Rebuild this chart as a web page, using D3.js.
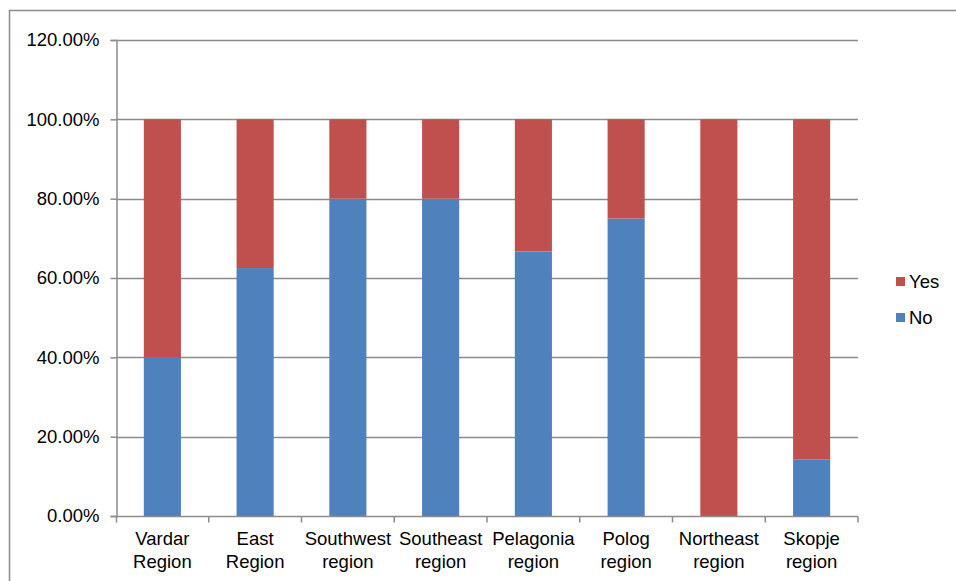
<!DOCTYPE html>
<html>
<head>
<meta charset="utf-8">
<script src="https://cdn.jsdelivr.net/npm/d3@7"></script>
<style>
  html, body { margin: 0; padding: 0; background: #fff; }
  svg { display: block; font-family: "Liberation Sans", Arial, sans-serif; }
</style>
</head>
<body>
<svg id="chart" width="956" height="581"></svg>
<script>
// Regions and shares of answers (fractions of 1)
const regions = [
  ["Vardar", "Region"],
  ["East", "Region"],
  ["Southwest", "region"],
  ["Southeast", "region"],
  ["Pelagonia", "region"],
  ["Polog", "region"],
  ["Northeast", "region"],
  ["Skopje", "region"]
];
const noValues  = [0.40, 0.625, 0.80, 0.80, 0.6667, 0.75, 0.00, 0.1429];
const yesValues = [0.60, 0.375, 0.20, 0.20, 0.3333, 0.25, 1.00, 0.8571];
const seriesNames = ["No", "Yes"];
const yTicks = [0, 0.2, 0.4, 0.6, 0.8, 1.0, 1.2];

const colors = { No: "#4F81BD", Yes: "#C0504D" };
const fontSize = "18.5px";

const svg = d3.select("#chart");
const margin = { left: 116, right: 98, top: 40, bottom: 65 };
const W = 956, H = 581;

// outer chart-area frame
svg.append("rect")
  .attr("x", 9.5).attr("y", 10.5)
  .attr("width", 960).attr("height", 600)
  .attr("fill", "none").attr("stroke", "#8c8c8c").attr("stroke-width", 1.5);

const x = d3.scaleBand()
  .domain(d3.range(regions.length))
  .range([margin.left, W - margin.right])
  .paddingInner(0.6).paddingOuter(0.3);

const y = d3.scaleLinear()
  .domain([0, 1.2])
  .range([H - margin.bottom, margin.top]);

// horizontal gridlines
svg.append("g")
  .selectAll("line")
  .data(yTicks.filter(d => d > 0))
  .join("line")
  .attr("x1", margin.left).attr("x2", W - margin.right)
  .attr("y1", d => Math.round(y(d)) + 0.5).attr("y2", d => Math.round(y(d)) + 0.5)
  .attr("stroke", "#8c8c8c").attr("stroke-width", 1.5);

// stacked data
const rows = regions.map((r, i) => ({ i, No: noValues[i], Yes: yesValues[i] }));
const stacked = d3.stack().keys(seriesNames)(rows);

svg.append("g")
  .selectAll("g")
  .data(stacked)
  .join("g")
  .attr("fill", d => colors[d.key])
  .selectAll("rect")
  .data(d => d)
  .join("rect")
  .attr("x", d => x(d.data.i))
  .attr("width", x.bandwidth())
  .attr("y", d => y(d[1]))
  .attr("height", d => y(d[0]) - y(d[1]));

// y axis
const yAxis = d3.axisLeft(y)
  .tickValues(yTicks)
  .tickSize(6)
  .tickFormat(d => (d * 100).toFixed(2) + "%");
const gy = svg.append("g")
  .attr("transform", `translate(${margin.left + 0.5},0)`)
  .call(yAxis);
gy.select(".domain").attr("stroke", "#8c8c8c").attr("stroke-width", 1.5);
gy.selectAll(".tick line").attr("stroke", "#8c8c8c").attr("stroke-width", 1.5);
gy.selectAll(".tick text")
  .attr("x", -17)
  .attr("fill", "#000")
  .style("font-size", fontSize)
  .style("font-family", "'Liberation Sans', Arial, sans-serif");

// x axis baseline and category separators
const step = x.step();
const yBase = Math.round(y(0)) + 0.5;
svg.append("line")
  .attr("x1", margin.left).attr("x2", W - margin.right)
  .attr("y1", yBase).attr("y2", yBase)
  .attr("stroke", "#8c8c8c").attr("stroke-width", 1.5);
svg.append("g")
  .selectAll("line")
  .data(d3.range(regions.length + 1))
  .join("line")
  .attr("x1", i => x(0) - x.paddingOuter() * step + i * step + (i === 0 ? 0.5 : 0))
  .attr("x2", i => x(0) - x.paddingOuter() * step + i * step + (i === 0 ? 0.5 : 0))
  .attr("y1", yBase).attr("y2", yBase + 6)
  .attr("stroke", "#8c8c8c").attr("stroke-width", 1.5);

// category labels (two lines)
const labels = svg.append("g")
  .selectAll("text")
  .data(regions)
  .join("text")
  .attr("text-anchor", "middle")
  .attr("fill", "#000")
  .style("font-size", fontSize)
  .attr("transform", (d, i) => `translate(${x(i) + x.bandwidth() / 2},0)`);
labels.append("tspan").attr("x", 0).attr("y", 545).text(d => d[0]);
labels.append("tspan").attr("x", 0).attr("y", 568).text(d => d[1]);

// legend
const legendItems = ["Yes", "No"];
const lg = svg.append("g")
  .selectAll("g")
  .data(legendItems)
  .join("g")
  .attr("transform", (d, i) => `translate(896,${277 + i * 36})`);
lg.append("rect")
  .attr("width", 9).attr("height", 9)
  .attr("fill", d => colors[d]);
lg.append("text")
  .attr("x", 13).attr("y", 4.5)
  .attr("dominant-baseline", "central")
  .attr("fill", "#000")
  .style("font-size", fontSize)
  .text(d => d);
</script>
</body>
</html>
